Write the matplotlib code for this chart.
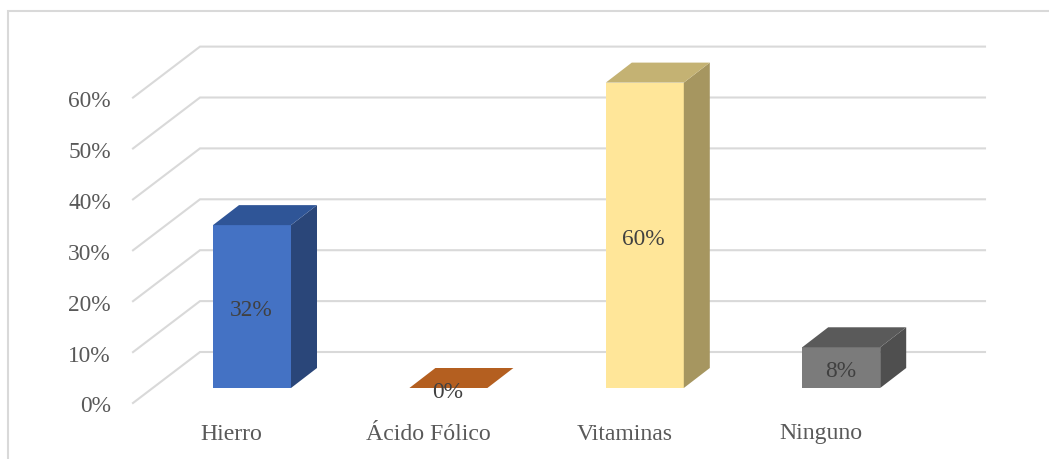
import matplotlib
matplotlib.use("Agg")
import matplotlib.pyplot as plt
from matplotlib.patches import Polygon

categories = ["Hierro", "Ácido Fólico", "Vitaminas", "Ninguno"]
values = [32, 0, 60, 8]
ticks = [0, 10, 20, 30, 40, 50, 60]

front_colors = ["#4472C4", "#C55A11", "#FFE699", "#7B7B7B"]
top_colors = ["#2F5597", "#B45F20", "#C4B273", "#5A5A5A"]
side_colors = ["#2A4679", "#A0501A", "#A69660", "#4F4F4F"]

W, H = 1049, 459
X_STEP = 196.4   # pixels between categories
Y_STEP = 5.09    # pixels per percent
X0, Y0 = 252, 388  # where the first bar's base centre sits
FONT_CAT = 17.1
FONT_PCT = 16.8

fig = plt.figure(figsize=(W / 100, H / 100), dpi=100)
ax = fig.add_axes([0, 0, 1, 1])
ax.set_xlim(-X0 / X_STEP, (W - X0) / X_STEP)
ax.set_ylim(-(H - Y0) / Y_STEP, Y0 / Y_STEP)
ax.axis("off")

# pixel offsets converted to data units
def dx(px):
    return px / X_STEP

def dy(px):
    return px / Y_STEP

plt.rcParams["font.family"] = ["Liberation Serif", "DejaVu Serif"]

# walls: gridlines run from the front edge to the back, then across
for t in ticks:
    ax.plot([dx(133 - X0), dx(200 - X0), dx(985 - X0)],
            [t + dy(-15), t + dy(36), t + dy(36)],
            color="#D9D9D9", lw=1.5, solid_joinstyle="miter", zorder=1)
    ax.text(dx(111 - X0), t + dy(-24.5), "%d%%" % t, ha="right", va="baseline",
            fontsize=FONT_PCT, color="#595959", family="Liberation Serif")

half = dx(39)
depth_x = dx(26)
depth_y = dy(20)

for i, (cat, v) in enumerate(zip(categories, values)):
    left, right = i - half, i + half
    if v > 0:
        ax.add_patch(Polygon([(left, 0), (right, 0), (right, v), (left, v)],
                             fc=front_colors[i], ec="none", zorder=3))
        ax.add_patch(Polygon([(right, 0), (right + depth_x, depth_y),
                              (right + depth_x, v + depth_y), (right, v)],
                             fc=side_colors[i], ec="none", zorder=3))
    ax.add_patch(Polygon([(left, v), (right, v), (right + depth_x, v + depth_y),
                          (left + depth_x, v + depth_y)],
                         fc=top_colors[i], ec="none", zorder=3))
    ax.text(i - dx(1), v / 2 + dy(-9.5), "%d%%" % v, ha="center", va="baseline",
            fontsize=FONT_PCT, color="#404040", zorder=4, family="Liberation Serif")
    ax.text(i - dx(20.5), dy(-51.5), cat, ha="center", va="baseline",
            fontsize=FONT_CAT, color="#595959", family="Liberation Serif")

# chart frame
ax.plot([dx(8 - X0), dx(8 - X0), dx(W - X0)],
        [dy(Y0 - H), dy(Y0 - 11), dy(Y0 - 11)],
        color="#D9D9D9", lw=1.5, solid_joinstyle="miter", zorder=1)

fig.savefig("out.png", dpi=100)
